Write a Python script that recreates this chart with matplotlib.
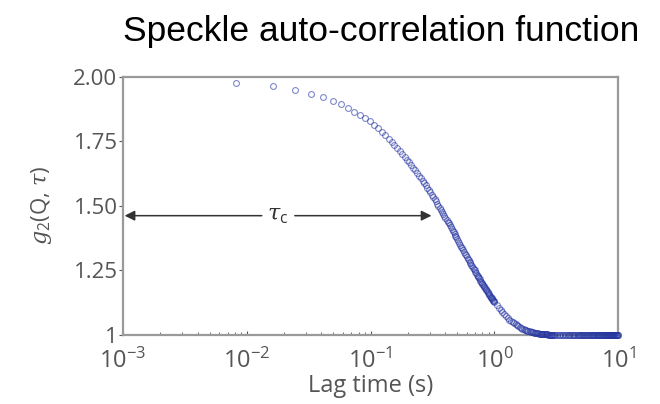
import matplotlib
matplotlib.use("Agg")
import matplotlib.pyplot as plt

# lag times (s) and g2 values
lag_early = [0.0082, 0.0164, 0.0246, 0.0328, 0.0410, 0.0492, 0.0574, 0.0656,
             0.0738, 0.0820, 0.0902, 0.0984, 0.1066, 0.1148, 0.1230, 0.1312,
             0.1394, 0.1476, 0.1558, 0.1640, 0.1722, 0.1804, 0.1886, 0.1968,
             0.2050, 0.2132, 0.2214, 0.2296, 0.2378, 0.2460, 0.2542, 0.2624,
             0.2706, 0.2788, 0.2870, 0.2952, 0.3034, 0.3116, 0.3198, 0.3280,
             0.3362, 0.3444, 0.3526, 0.3608, 0.3690, 0.3772, 0.3854, 0.3936,
             0.4018, 0.4100, 0.4182, 0.4264, 0.4346, 0.4428, 0.4510, 0.4592,
             0.4674, 0.4756, 0.4838, 0.4920]
g2_early = [1.977, 1.965, 1.949, 1.933, 1.921, 1.907, 1.893, 1.879,
            1.865, 1.853, 1.840, 1.827, 1.813, 1.800, 1.786, 1.773,
            1.760, 1.747, 1.735, 1.723, 1.712, 1.701, 1.690, 1.679,
            1.669, 1.658, 1.648, 1.637, 1.627, 1.617, 1.608, 1.598,
            1.589, 1.579, 1.570, 1.561, 1.552, 1.543, 1.534, 1.526,
            1.517, 1.509, 1.501, 1.492, 1.484, 1.477, 1.469, 1.461,
            1.454, 1.446, 1.439, 1.432, 1.425, 1.418, 1.411, 1.404,
            1.397, 1.391, 1.384, 1.378]

lag_mid = [0.50, 0.51, 0.52, 0.53, 0.54, 0.55, 0.56, 0.57, 0.58, 0.59,
           0.60, 0.61, 0.62, 0.63, 0.64, 0.65, 0.66, 0.67, 0.68, 0.69,
           0.70, 0.71, 0.72, 0.73, 0.74, 0.75, 0.76, 0.77, 0.78, 0.79,
           0.80, 0.81, 0.82, 0.83, 0.84, 0.85, 0.86, 0.87, 0.88, 0.89,
           0.90, 0.91, 0.92, 0.93, 0.94, 0.95, 0.96, 0.97, 0.98, 0.99,
           1.00, 1.04, 1.08, 1.12, 1.16,
           1.20, 1.24, 1.28, 1.32, 1.36, 1.40, 1.44, 1.48, 1.52, 1.56,
           1.60, 1.64, 1.68, 1.72, 1.76, 1.80, 1.84, 1.88, 1.92, 1.96,
           2.00, 2.04, 2.08, 2.12, 2.16, 2.20, 2.24, 2.28, 2.32, 2.36,
           2.40, 2.44, 2.48, 2.52, 2.56, 2.60, 2.64, 2.68, 2.72, 2.76,
           2.80, 2.84, 2.88, 2.92, 2.96]
g2_mid = [1.372, 1.364, 1.357, 1.350, 1.342, 1.335, 1.328, 1.322, 1.315, 1.309,
          1.302, 1.296, 1.290, 1.284, 1.278, 1.272, 1.266, 1.261, 1.255, 1.250,
          1.245, 1.240, 1.234, 1.230, 1.225, 1.220, 1.215, 1.211, 1.206, 1.202,
          1.197, 1.193, 1.189, 1.185, 1.181, 1.177, 1.173, 1.170, 1.166, 1.162,
          1.158, 1.155, 1.152, 1.149, 1.145, 1.142, 1.139, 1.136, 1.133, 1.130,
          1.127, 1.116, 1.106, 1.097, 1.088,
          1.080, 1.073, 1.067, 1.060, 1.055, 1.050, 1.045, 1.041, 1.037, 1.034,
          1.031, 1.028, 1.025, 1.023, 1.020, 1.018, 1.017, 1.015, 1.014, 1.012,
          1.011, 1.010, 1.009, 1.008, 1.007, 1.006, 1.006, 1.005, 1.005, 1.004,
          1.004, 1.003, 1.003, 1.003, 1.002, 1.002, 1.002, 1.002, 1.001, 1.001,
          1.001, 1.001, 1.001, 1.001, 1.001]

# flat tail, 3 s to 10 s
lag_tail = [3.0, 3.1, 3.2, 3.3, 3.4, 3.5, 3.6, 3.7, 3.8, 3.9,
            4.0, 4.1, 4.2, 4.3, 4.4, 4.5, 4.6, 4.7, 4.8, 4.9,
            5.0, 5.1, 5.2, 5.3, 5.4, 5.5, 5.6, 5.7, 5.8, 5.9,
            6.0, 6.1, 6.2, 6.3, 6.4, 6.5, 6.6, 6.7, 6.8, 6.9,
            7.0, 7.1, 7.2, 7.3, 7.4, 7.5, 7.6, 7.7, 7.8, 7.9,
            8.0, 8.1, 8.2, 8.3, 8.4, 8.5, 8.6, 8.7, 8.8, 8.9,
            9.0, 9.1, 9.2, 9.3, 9.4, 9.5, 9.6, 9.7, 9.8, 9.9, 10.0]
g2_tail = [1.000, 1.000, 1.000, 1.000, 1.000, 1.000, 1.000, 1.000, 1.000, 1.000,
           1.000, 1.000, 1.000, 1.000, 1.000, 1.000, 1.000, 1.000, 1.000, 1.000,
           1.000, 1.000, 1.000, 1.000, 1.000, 1.000, 1.000, 1.000, 1.000, 1.000,
           1.000, 1.000, 1.000, 1.000, 1.000, 1.000, 1.000, 1.000, 1.000, 1.000,
           1.000, 1.000, 1.000, 1.000, 1.000, 1.000, 1.000, 1.000, 1.000, 1.000,
           1.000, 1.000, 1.000, 1.000, 1.000, 1.000, 1.000, 1.000, 1.000, 1.000,
           1.000, 1.000, 1.000, 1.000, 1.000, 1.000, 1.000, 1.000, 1.000, 1.000,
           1.000]

y_ticks = [1.0, 1.25, 1.5, 1.75, 2.0]
y_tick_labels = ["1", "1.25", "1.50", "1.75", "2.00"]
x_ticks = [1e-3, 1e-2, 1e-1, 1e0, 1e1]
x_tick_labels = ["$10^{-3}$", "$10^{-2}$", "$10^{-1}$", "$10^{0}$", "$10^{1}$"]

# arrow marking the correlation time
arrow_y = 1.462
arrow_x0, arrow_x1 = 1.03e-3, 0.31
tau_label_x = 0.0178
gap_x0, gap_x1 = 0.0132, 0.0244

plt.rcParams["mathtext.fontset"] = "custom"
plt.rcParams["mathtext.rm"] = "Open Sans"
plt.rcParams["mathtext.it"] = "DejaVu Serif:italic"

fig = plt.figure(figsize=(6.6, 4.04), dpi=100)
ax = fig.add_axes([0.1864, 0.1708, 0.7504, 0.6393])

lag = lag_early + lag_mid + lag_tail
g2 = g2_early + g2_mid + g2_tail
ax.plot(lag, g2, linestyle="none", marker="o", markersize=4.2,
        markerfacecolor="none", markeredgecolor="#2434a0",
        markeredgewidth=0.8, alpha=0.58, clip_on=False, zorder=3)

ax.set_xscale("log")
ax.set_xlim(1e-3, 1e1)
ax.set_ylim(1.0, 2.0)

grey = "#555555"
for s in ax.spines.values():
    s.set_color("#9a9a9a")
    s.set_linewidth(1.6)

ax.set_yticks(y_ticks)
ax.set_yticklabels(y_tick_labels)
ax.set_xticks(x_ticks)
ax.set_xticklabels(x_tick_labels)
ax.tick_params(axis="y", direction="out", length=3, width=0.8, color=grey,
               labelsize=16, labelcolor=grey, pad=1)
ax.tick_params(axis="x", which="major", direction="in", length=3, width=0.8,
               color=grey, labelsize=17, labelcolor=grey, pad=10)
ax.tick_params(axis="x", which="minor", direction="in", length=2, width=0.6,
               color=grey)
for lbl in ax.get_yticklabels() + ax.get_xticklabels():
    lbl.set_family("Open Sans")

ax.set_xlabel("Lag time (s)", fontsize=17, color=grey, family="Open Sans",
              labelpad=0)
ax.set_ylabel(r"$g_2$(Q, $\tau$)", fontsize=16, color=grey,
              family="Open Sans", labelpad=14)

ax.annotate("", xy=(arrow_x0, arrow_y), xytext=(gap_x0, arrow_y),
            arrowprops=dict(arrowstyle="-|>", color="#333333", lw=1.1,
                            mutation_scale=15, shrinkA=0, shrinkB=0))
ax.annotate("", xy=(arrow_x1, arrow_y), xytext=(gap_x1, arrow_y),
            arrowprops=dict(arrowstyle="-|>", color="#333333", lw=1.1,
                            mutation_scale=15, shrinkA=0, shrinkB=0))
ax.text(tau_label_x, arrow_y, r"$\tau_{\rm c}$", fontsize=16, color="#333333",
        ha="center", va="center")

fig.text(0.578, 0.922, "Speckle auto-correlation function", fontsize=25.5,
         family="Liberation Sans", ha="center", va="center", color="black")

fig.savefig("out.png", dpi=100)
